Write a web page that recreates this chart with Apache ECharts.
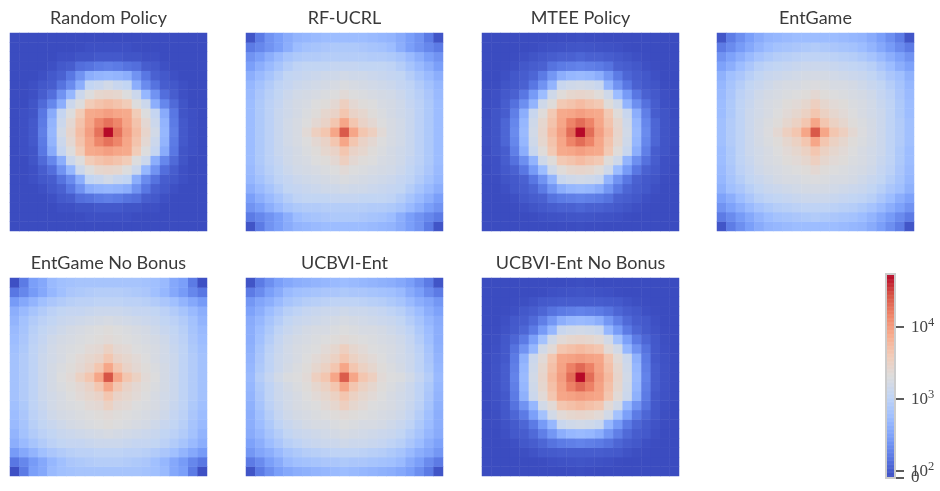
<!DOCTYPE html>
<html>
<head>
<meta charset="utf-8">
<style>html,body{margin:0;padding:0;background:#fff}#c{width:940px;height:491px}#c canvas{filter:blur(0.45px)}</style>
<script src="https://cdn.jsdelivr.net/npm/echarts@6/dist/echarts.min.js"></script>
</head>
<body>
<div id="c"></div>
<script>
// Each table: visit counts per cell, row = rows from centre, column = columns from centre (quadrant).
const randomPolicy = [
[52000,18600,9700,5420,2834,1581,492,175,90,30,0],
[18600,14300,8534,4761,2489,1389,461,164,90,30,0],
[9700,8534,7998,3919,2050,1220,380,153,60,30,0],
[5420,4761,3919,2050,1389,405,199,126,60,0,0],
[2834,2656,2050,1389,492,242,135,104,30,0,0],
[1581,1301,1143,405,212,144,104,80,30,0,0],
[492,461,405,242,153,111,90,30,0,0,0],
[175,164,144,135,104,90,30,0,0,0,0],
[90,90,60,60,30,30,0,0,0,0,0],
[30,30,30,10,0,0,0,0,0,0,0],
[0,0,0,0,0,0,0,0,0,0,0]];
const rfUcrl = [
[25700,8534,4462,3442,2333,1800,1581,1301,1004,775,560],
[8534,4462,3024,2489,2050,1800,1581,1301,1004,775,560],
[4462,3024,2656,2186,1920,1687,1482,1301,1004,775,560],
[3442,2489,2186,2050,1800,1687,1482,1220,1004,775,560],
[2333,2050,1920,1800,1687,1581,1389,1143,941,726,525],
[1920,1800,1687,1581,1482,1389,1220,1071,827,638,492],
[1581,1482,1482,1389,1301,1220,1143,882,680,525,405],
[1220,1220,1143,1143,1143,1071,882,680,525,405,293],
[882,882,882,827,827,775,680,525,405,293,242],
[775,775,726,680,638,560,405,293,242,199,164],
[560,560,560,525,492,461,380,293,242,164,60]];
const mteePolicy = [
[52000,20000,9700,5600,2834,1581,525,212,118,60,20],
[20000,14800,8534,4761,2656,1482,492,199,118,60,20],
[9700,8534,7998,4182,2190,1301,405,175,104,60,10],
[5600,4761,4182,2186,1482,460,226,140,104,30,10],
[2834,2656,2190,1482,560,275,153,111,90,30,0],
[1581,1482,1301,460,242,153,111,90,60,10,0],
[525,492,405,258,164,118,104,80,30,0,0],
[187,175,164,144,111,104,80,30,10,0,0],
[118,111,111,104,90,60,30,10,0,0,0],
[70,60,50,40,30,10,0,0,0,0,0],
[20,10,10,0,0,0,0,0,0,0,0]];
const entGame = [
[26000,8534,4462,3442,2500,2000,1700,1389,1071,827,598],
[8534,4462,3226,2656,2186,1920,1687,1389,1071,827,598],
[4462,3226,2656,2333,2050,1800,1581,1389,1071,775,560],
[3442,2656,2333,2186,1920,1800,1581,1301,1071,775,560],
[2500,2186,2050,1920,1800,1687,1482,1220,1004,726,525],
[2000,1920,1800,1800,1687,1482,1301,1143,882,680,492],
[1700,1687,1581,1481,1389,1301,1143,941,726,598,432],
[1389,1389,1301,1220,1143,1071,941,726,560,405,313],
[1071,1071,1004,941,882,775,660,525,405,313,242],
[827,775,726,680,638,560,461,356,275,212,165],
[560,560,560,525,492,461,380,293,226,170,65]];
const entGameNoBonus = [
[27400,8534,4462,3226,2333,2050,1687,1389,1071,827,638],
[8534,4462,3024,2489,2186,1920,1687,1389,1071,827,638],
[4462,3024,2656,2333,2050,1800,1581,1389,1071,827,638],
[3226,2489,2333,2050,1920,1800,1581,1301,1071,775,598],
[2333,2186,2050,1920,1800,1687,1482,1220,1004,726,560],
[2186,2050,1920,1800,1687,1482,1301,1143,941,680,525],
[1800,1687,1581,1482,1389,1301,1143,1004,827,638,461],
[1389,1389,1301,1220,1220,1143,1004,827,680,525,405],
[1071,1071,1004,1004,941,827,726,598,461,356,275],
[882,882,827,775,726,598,492,356,275,199,153],
[680,680,680,680,638,598,525,356,293,164,30]];
const ucbviEnt = [
[25000,8534,4462,3442,2333,2050,1920,1581,1220,882,525],
[8534,4462,3226,2656,2186,1920,1687,1389,1071,775,492],
[4462,3226,2656,2333,2050,1800,1581,1389,1071,726,461],
[3442,2656,2333,2050,1920,1800,1581,1301,1004,680,432],
[2333,2186,2050,1920,1800,1687,1482,1220,882,598,405],
[2050,1920,1800,1800,1687,1482,1301,1071,775,560,405],
[1800,1687,1581,1482,1389,1301,1143,882,680,492,380],
[1482,1389,1389,1301,1220,1071,941,726,560,405,312],
[1071,1071,1004,941,882,775,680,525,405,334,258],
[775,726,726,680,640,600,525,380,293,212,165],
[560,525,492,461,432,405,356,293,226,164,60]];
const ucbviEntNoBonus = [
[52000,20000,10000,5783,2834,1581,525,187,104,50,10],
[21000,15300,9106,5080,2656,1482,492,175,104,50,10],
[10000,9106,8534,4462,2333,1389,432,164,90,40,10],
[5783,5080,4462,2333,1582,492,242,144,90,30,0],
[2834,2656,2333,1582,640,299,164,118,80,20,0],
[1581,1482,1301,492,275,164,118,100,50,10,0],
[525,492,405,258,175,126,104,90,30,0,0],
[187,175,164,144,118,104,80,30,10,0,0],
[104,104,104,100,90,50,20,10,0,0,0],
[60,50,40,30,10,0,0,0,0,0,0],
[20,10,0,0,0,0,0,0,0,0,0]];

const panelTitles = ['Random Policy','RF-UCRL','MTEE Policy','EntGame','EntGame No Bonus','UCBVI-Ent','UCBVI-Ent No Bonus'];
const panelTables = [randomPolicy,rfUcrl,mteePolicy,entGame,entGameNoBonus,ucbviEnt,ucbviEntNoBonus];
const colorbarTicks = [0,1000,10000];
const colorbarLabels = ['0','103','104'];
const colorbarExtraTick = [100];
const colorbarExtraLabel = ['102'];
const coolwarm = ['#3b4cc0','#5977e3','#7b9ff9','#9ebeff','#c0d4f5','#dddcdc','#f2cbb7','#f7ac8e','#ee8468','#d65244','#b40426'];

// symmetric-log colour scale matching the colour bar
function norm(v){ return v<=100 ? 0.034*v/100 : Math.min(1, 0.034+0.353*Math.log10(v/100)); }

const panelLefts = [10,246,482,717], panelTops = [33,278];
const N = 21, C = 10;
const idx = Array.from({length:N},(_,i)=>String(i));
const grid=[],xAxis=[],yAxis=[],series=[],title=[];
panelTables.forEach((tab,k)=>{
  const left = panelLefts[k%4], top = panelTops[k<4?0:1];
  grid.push({left,top,width:197,height:198});
  xAxis.push({type:'category',data:idx,gridIndex:k,show:false});
  yAxis.push({type:'category',data:idx,gridIndex:k,show:false});
  const data=[];
  for(let y=0;y<N;y++)for(let x=0;x<N;x++){
    const v=tab[Math.abs(y-C)][Math.abs(x-C)];
    data.push([x,y,v,norm(v)]);
  }
  series.push({type:'heatmap',xAxisIndex:k,yAxisIndex:k,data,progressive:0,silent:true,encode:{x:0,y:1,value:3}});
  title.push({text:panelTitles[k],left:left+98.5,top:top-24,textAlign:'center',padding:0,
    textStyle:{fontFamily:'Lato',fontSize:18,fontWeight:'normal',color:'#3a3a3a'}});
});

// colour bar
const cb=panelTables.length;
const levels=Array.from({length:256},(_,i)=>i);
const richLabel=(s)=> s.length>1 ? '{b|'+s.slice(0,2)+'}{s|'+s.slice(2)+'}' : '{b|'+s+'}';
const rich={b:{fontFamily:'Liberation Serif',fontSize:17,color:'#444444'},
            s:{fontFamily:'Liberation Serif',fontSize:12.5,color:'#444444',padding:[0,0,9,0]}};
function tickAxis(ticks,labels){
  return {type:'value',gridIndex:cb,min:0,max:1,position:'right',
    axisLine:{show:false},splitLine:{show:false},
    axisTick:{show:true,length:9,lineStyle:{color:'#333333',width:1.6},customValues:ticks.map(norm)},
    axisLabel:{show:true,margin:16,showMinLabel:true,showMaxLabel:true,hideOverlap:false,customValues:ticks.map(norm),
      formatter:(val)=>{
        const i=ticks.findIndex(t=>Math.abs(norm(t)-val)<1e-6);
        return richLabel(labels[i]||'');
      },rich}};
}
grid.push({left:886,top:274,width:9,height:204,show:true,borderColor:'#cccccc',borderWidth:2,backgroundColor:'transparent',z:5});
xAxis.push({type:'category',data:['c'],gridIndex:cb,show:false});
yAxis.push({type:'category',data:levels,gridIndex:cb,show:false});
const yBase=yAxis.length;
yAxis.push(tickAxis(colorbarTicks,colorbarLabels));
yAxis.push(tickAxis(colorbarExtraTick,colorbarExtraLabel));
series.push({type:'heatmap',xAxisIndex:cb,yAxisIndex:yBase-1,silent:true,
  data:levels.map(l=>[0,l,0,(l+0.5)/256]),encode:{x:0,y:1,value:3}});

const chart=echarts.init(document.getElementById('c'),null,{renderer:'canvas'});
chart.setOption({animation:false,backgroundColor:'#ffffff',title,grid,xAxis,yAxis,series,tooltip:{show:false},
  visualMap:{show:false,type:'continuous',min:0,max:1,dimension:3,seriesIndex:series.map((_,i)=>i),inRange:{color:coolwarm}}});
</script>
</body>
</html>
